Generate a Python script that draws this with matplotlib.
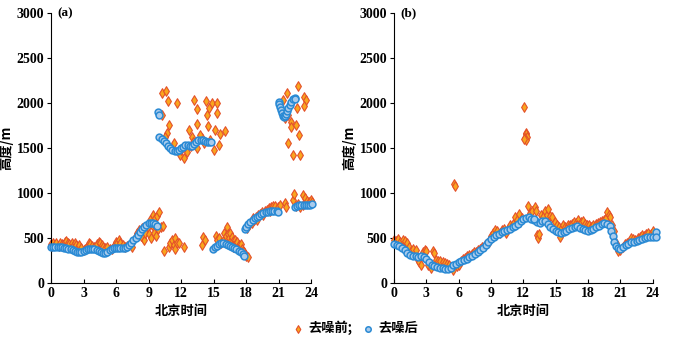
import matplotlib
matplotlib.use('Agg')
import matplotlib.pyplot as plt

plt.rcParams['font.family'] = ['Liberation Serif', 'Noto Sans CJK SC']
plt.rcParams['font.weight'] = 'bold'

# ---- panel (a) ----
# denoised (after)
a_clean = [
    (0, 395), (0.2, 398), (0.4, 400), (0.6, 400), (0.8, 398), (1.0, 395), (1.2, 392), (1.4, 388),
    (1.6, 382), (1.8, 375), (2.0, 368), (2.2, 358), (2.4, 348), (2.6, 342), (2.8, 345), (3.0, 355),
    (3.2, 365), (3.4, 375), (3.6, 380), (3.8, 380), (4.0, 375), (4.2, 365), (4.4, 352), (4.6, 340),
    (4.8, 330), (5.0, 335), (5.2, 348), (5.4, 362), (5.6, 375), (5.8, 385), (6.0, 390), (6.2, 390),
    (6.4, 385), (6.6, 385), (6.8, 392), (7.0, 405), (7.2, 425), (7.4, 448), (7.6, 475), (7.8, 505),
    (8.0, 535), (8.2, 565), (8.4, 595), (8.6, 620), (8.8, 645), (9.0, 662), (9.2, 672), (9.4, 672),
    (9.6, 660), (9.8, 630),
    (9.9, 1900), (10.0, 1870), (10.0, 1620), (10.2, 1600), (10.4, 1580), (10.6, 1550), (10.8, 1520),
    (11.0, 1495), (11.2, 1478), (11.4, 1468), (11.6, 1462), (11.8, 1475), (12.0, 1495), (12.2, 1515),
    (12.4, 1530), (12.6, 1532), (12.8, 1525), (13.0, 1525), (13.2, 1545), (13.4, 1570), (13.6, 1588),
    (13.8, 1592), (14.0, 1585), (14.2, 1575), (14.4, 1570), (14.6, 1568), (14.8, 1570),
    (14.9, 375), (15.1, 395), (15.3, 415), (15.5, 432), (15.7, 442), (15.9, 440), (16.1, 432),
    (16.3, 425), (16.5, 415), (16.7, 405), (16.9, 392), (17.1, 378), (17.3, 360), (17.5, 340),
    (17.7, 318), (17.8, 305),
    (17.9, 595), (18.0, 625), (18.2, 655), (18.4, 680), (18.6, 700), (18.8, 718), (19.0, 735),
    (19.2, 750), (19.4, 763), (19.6, 775), (19.8, 785), (20.0, 793), (20.2, 798), (20.4, 800),
    (20.6, 800), (20.8, 797), (20.9, 792),
    (21.0, 2015), (21.05, 1985), (21.1, 1955), (21.2, 1920), (21.3, 1890), (21.4, 1860), (21.5, 1845),
    (21.6, 1850), (21.7, 1880), (21.8, 1910), (21.9, 1945), (22.0, 1980), (22.1, 2010), (22.3, 2040),
    (22.5, 2060), (22.55, 2040),
    (22.5, 848), (22.7, 855), (22.9, 862), (23.1, 866), (23.3, 868), (23.5, 870), (23.7, 870),
    (23.9, 872), (24.1, 880),
]
# raw (before)
a_raw = [
    (0, 430), (0.1, 410), (0.2, 445), (0.4, 425), (0.5, 440), (0.7, 415), (0.8, 445), (1.0, 430),
    (1.1, 420), (1.3, 455), (1.4, 470), (1.6, 445), (1.7, 430), (1.9, 440), (2.0, 415), (2.2, 440),
    (2.3, 425), (2.5, 400), (2.6, 420), (2.8, 385), (3.0, 365), (3.1, 380), (3.3, 395), (3.5, 445),
    (3.6, 430), (3.8, 410), (4.0, 400), (4.2, 430), (4.4, 455), (4.5, 440), (4.7, 425), (4.8, 400),
    (5.0, 385), (5.2, 395), (5.4, 375), (5.6, 380), (5.8, 410), (6.0, 460), (6.1, 440), (6.3, 475),
    (6.4, 450), (6.6, 420), (6.8, 400), (7.0, 415), (7.2, 420), (7.4, 440), (7.6, 470), (7.8, 520),
    (7.9, 560), (8.1, 590), (8.2, 540), (8.4, 610), (8.5, 500), (8.6, 480), (8.7, 560), (8.9, 620),
    (9.0, 540), (9.1, 700), (9.2, 500), (9.3, 640), (9.4, 760), (9.5, 560), (9.6, 720), (9.7, 520),
    (9.8, 740), (10.0, 790), (10.1, 620), (10.3, 630), (9.9, 600), (8.3, 520), (7.5, 400),
    (10.4, 360), (10.9, 400), (11.0, 450), (11.2, 480), (11.3, 420), (11.45, 500), (11.45, 375),
    (11.6, 440), (11.8, 445), (12.3, 395), (13.9, 420), (14.05, 515), (14.2, 480),
    (15.2, 520), (15.3, 480), (15.5, 500), (15.7, 450), (15.9, 470), (16.0, 560), (16.1, 520),
    (16.2, 625), (16.3, 540), (16.4, 500), (16.5, 560), (16.6, 480), (16.7, 510), (16.8, 470),
    (16.9, 450), (17.0, 480), (17.1, 440), (17.2, 460), (17.3, 420), (17.4, 400), (17.5, 430),
    (17.6, 380), (17.7, 360), (17.8, 350), (17.9, 320), (18.0, 300), (18.2, 285), (16.8, 400),
    (17.2, 380),
    (18.1, 610), (18.3, 640), (18.5, 670), (18.7, 700), (18.9, 730), (19.1, 755), (19.3, 770),
    (19.5, 790), (19.7, 800), (19.9, 815), (20.1, 830), (20.3, 840), (20.5, 855), (20.7, 860),
    (20.9, 850), (21.1, 870), (21.55, 885), (21.7, 850), (18.6, 720), (19.0, 700), (19.6, 760),
    (20.2, 800),
    (22.35, 925), (22.4, 990), (22.8, 880), (23.0, 845), (23.25, 975), (23.45, 940), (23.6, 910),
    (23.8, 905), (24.0, 920), (23.2, 870), (22.6, 860), (24.1, 900),
    (10.2, 2107), (10.6, 2137), (10.75, 2026), (11.65, 2004), (13.2, 2033), (14.3, 2022),
    (14.85, 2000), (15.3, 1996), (13.45, 1930), (14.6, 1941), (14.4, 1867), (15.3, 1886),
    (13.5, 1767), (14.5, 1741), (15.1, 1700), (16.05, 1692), (15.6, 1652), (12.7, 1700),
    (13.0, 1626), (10.85, 1756), (10.7, 1667), (10.55, 1626), (12.4, 1515), (11.9, 1422),
    (12.3, 1385), (12.5, 1460), (13.5, 1496), (14.1, 1550), (15.0, 1478), (15.5, 1533),
    (13.9, 1610), (13.1, 1570), (10.2, 1870), (11.3, 1550), (12.0, 1480), (12.9, 1520),
    (13.7, 1640), (14.7, 1590),
    (21.75, 2107), (22.75, 2189), (23.35, 2070), (23.5, 2033), (23.3, 1967), (22.65, 1941),
    (21.4, 2033), (21.6, 1830), (22.1, 1793), (22.15, 1737), (22.6, 1756), (21.85, 1559),
    (22.85, 1644), (22.3, 1422), (22.95, 1422), (21.9, 1870),
]

# ---- panel (b) ----
b_clean = [
    (0, 428), (0.25, 420), (0.5, 406), (0.75, 385), (1.0, 362), (1.25, 335), (1.5, 310), (1.75, 298),
    (2.0, 295), (2.25, 294), (2.5, 295), (2.75, 290), (3.0, 270), (3.25, 235), (3.5, 205), (3.75, 188),
    (4.0, 178), (4.25, 170), (4.5, 163), (4.75, 158), (5.0, 156), (5.25, 172), (5.5, 196), (5.75, 215),
    (6.0, 232), (6.25, 246), (6.5, 258), (6.75, 272), (7.0, 288), (7.25, 305), (7.5, 325), (7.75, 343),
    (8.0, 362), (8.25, 390), (8.5, 418), (8.75, 455), (9.0, 490), (9.25, 512), (9.5, 528), (9.75, 548),
    (10.0, 565), (10.25, 578), (10.5, 590), (10.75, 605), (11.0, 620), (11.25, 638), (11.5, 657),
    (11.75, 685), (12.0, 710), (12.25, 722), (12.5, 728), (12.75, 715), (13.0, 700), (13.25, 680),
    (13.5, 672), (13.75, 685), (14.0, 692), (14.25, 660), (14.5, 620), (14.75, 598), (15.0, 582),
    (15.25, 565), (15.5, 553), (15.75, 565), (16.0, 583), (16.25, 598), (16.5, 612), (16.75, 622),
    (17.0, 628), (17.25, 615), (17.5, 600), (17.75, 585), (18.0, 576), (18.25, 588), (18.5, 600),
    (18.75, 620), (19.0, 638), (19.25, 652), (19.5, 662), (19.75, 655), (20.0, 630), (20.15, 580),
    (20.3, 520), (20.45, 460), (20.6, 410), (20.8, 385), (21.0, 380), (21.25, 400), (21.5, 417),
    (21.75, 437), (22.0, 452), (22.25, 460), (22.5, 466), (22.75, 478), (23.0, 490), (23.25, 500),
    (23.5, 508), (23.75, 512), (24.0, 515), (24.3, 565), (24.3, 510), (13.0, 712),
]
b_raw = [
    (0, 480), (0.2, 470), (0.4, 490), (0.6, 460), (0.8, 480), (1.0, 470), (1.2, 440), (1.4, 400),
    (1.6, 360), (1.8, 380), (2.0, 370), (2.2, 260), (2.3, 230), (2.5, 200), (2.7, 340), (2.9, 370),
    (3.0, 360), (3.2, 200), (3.4, 170), (3.6, 360), (3.7, 330), (3.9, 260), (4.1, 250), (4.3, 240),
    (4.5, 230), (4.7, 220), (4.9, 210), (5.1, 200), (5.3, 180), (5.5, 140), (5.6, 1100), (5.65, 1080),
    (5.8, 190), (6.0, 200), (6.2, 240), (6.4, 270), (6.6, 280), (6.8, 300), (7.0, 310), (7.2, 320),
    (7.4, 340), (7.6, 350), (7.8, 370), (8.0, 380), (8.2, 400), (8.4, 420), (8.6, 440), (8.8, 460),
    (9.0, 520), (9.2, 560), (9.4, 590), (9.6, 580), (9.8, 560), (10.0, 590), (10.2, 600), (10.4, 560),
    (10.6, 600), (10.8, 640), (11.0, 660), (11.2, 730), (11.4, 700), (11.55, 770), (11.7, 680),
    (11.9, 720), (12.03, 1957), (12.2, 1670), (12.27, 1650), (12.15, 1615), (12.35, 1620),
    (12.25, 1590), (12.1, 1600), (12.4, 860), (12.6, 780), (12.8, 800), (13.1, 850), (13.2, 800),
    (13.3, 530), (13.35, 500), (13.45, 545), (13.6, 760), (13.8, 730), (14.0, 805), (14.2, 760),
    (14.3, 825), (14.5, 750), (14.7, 730), (14.9, 680), (15.1, 640), (15.3, 620), (15.5, 600),
    (15.7, 640), (15.9, 620), (16.1, 650), (16.3, 640), (16.5, 660), (16.7, 680), (16.9, 670),
    (17.1, 700), (17.3, 680), (17.5, 690), (17.7, 660), (17.9, 650), (18.1, 640), (18.3, 620),
    (18.5, 640), (18.7, 660), (18.9, 670), (19.1, 680), (19.3, 690), (19.5, 700), (19.7, 720),
    (19.8, 790), (19.9, 760), (20.0, 730), (20.2, 640), (20.4, 580), (20.6, 450), (20.8, 360),
    (21.0, 370), (21.2, 400), (21.4, 430), (21.6, 450), (21.8, 460), (22.0, 500), (22.2, 490),
    (22.4, 480), (22.6, 500), (22.8, 510), (23.0, 530), (23.2, 520), (23.4, 540), (23.6, 560),
    (23.8, 550), (24.0, 580), (15.4, 510), (16.0, 600), (17.0, 640),
]

xticks = [0, 3, 6, 9, 12, 15, 18, 21, 24]
yticks = [0, 500, 1000, 1500, 2000, 2500, 3000]
cjk = ['Noto Sans CJK SC', 'DejaVu Sans']

fig = plt.figure(figsize=(6.9, 3.41), dpi=100)
ax1 = fig.add_axes([0.074, 0.170, 0.377, 0.792])
ax2 = fig.add_axes([0.571, 0.170, 0.375, 0.792])

for ax, raw, clean, tag in [(ax1, a_raw, a_clean, '(a)'), (ax2, b_raw, b_clean, '(b)')]:
    ax.scatter([p[0] for p in raw], [p[1] for p in raw], marker='d', s=24,
               facecolor='#f9a61e', edgecolor='#e4502a', linewidth=0.8,
               clip_on=False, zorder=2, label='去噪前;')
    ax.scatter([p[0] for p in clean], [p[1] for p in clean], marker='o', s=24,
               facecolor='#a9cbec', edgecolor='#2a8ad4', linewidth=1.1,
               clip_on=False, zorder=3, label='去噪后')
    ax.set_xlim(0, 24)
    ax.set_ylim(0, 3000)
    ax.set_xticks(xticks)
    ax.set_yticks(yticks)
    ax.spines['top'].set_visible(False)
    ax.spines['right'].set_visible(False)
    ax.tick_params(axis='x', direction='in', length=3, labelsize=10, pad=3)
    ax.tick_params(axis='y', direction='out', length=3, labelsize=10, pad=2)
    for lab in ax.get_xticklabels() + ax.get_yticklabels():
        lab.set_fontweight('bold')
    ax.set_xlabel('北京时间', family=cjk, fontweight='bold', fontsize=9.5, labelpad=3)
    ax.set_ylabel('高度/m', family=cjk, fontweight='bold', fontsize=9.5, labelpad=2)
    ax.text(0.6, 3000, tag, fontsize=9.5, fontweight='bold', va='center', ha='left')

h, l = ax1.get_legend_handles_labels()
fig.legend(h, l, loc='center', bbox_to_anchor=(0.515, 0.038), ncol=2, frameon=False,
           prop={'family': cjk, 'weight': 'bold', 'size': 9.5},
           handlelength=0.8, handletextpad=0.4, columnspacing=0.8, markerscale=0.8)

plt.savefig('out.png', dpi=100)
